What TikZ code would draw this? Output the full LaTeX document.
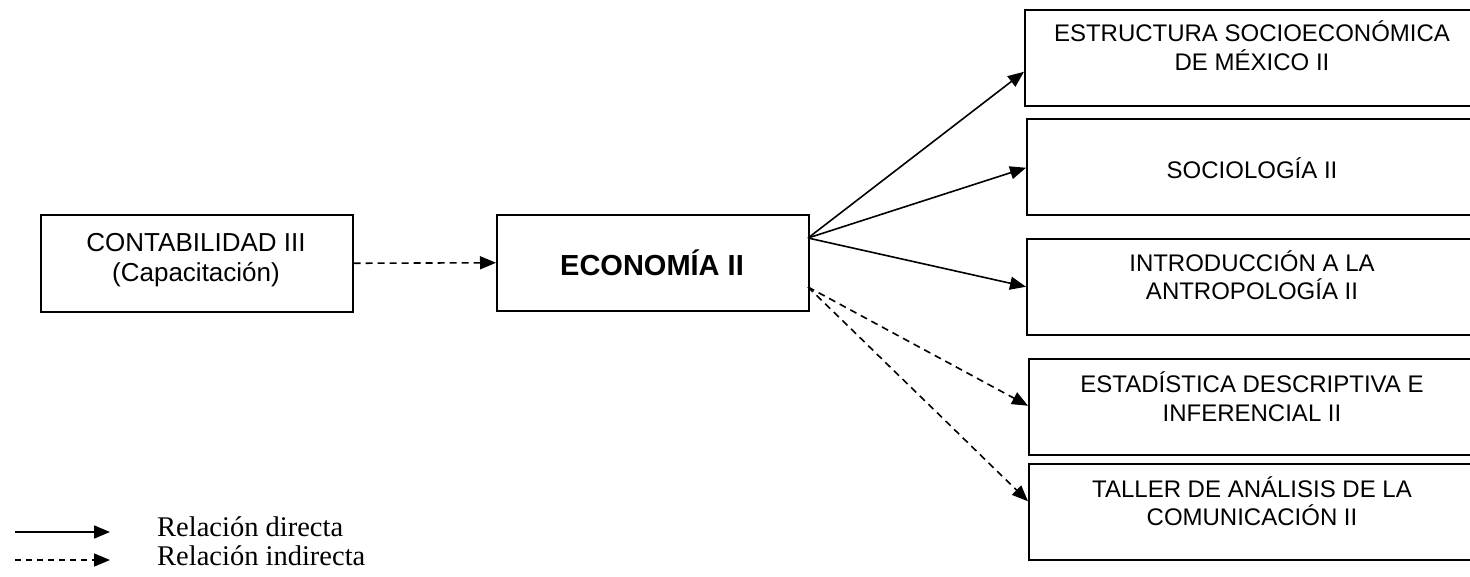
\documentclass[tikz,border=0pt]{standalone}
\usepackage{fontspec}
\setmainfont{Liberation Sans}
\newfontfamily\timesfont{Liberation Serif}
\usetikzlibrary{arrows.meta}
\tikzset{
  box/.style={draw, line width=1.5pt, rectangle, inner sep=0pt, anchor=north west},
  rbox/.style={box, minimum width=456pt, minimum height=96pt},
  lbl/.style={inner sep=0pt, anchor=base, font=\fontsize{24}{28}\selectfont},
  arr/.style={line width=1.6pt, -{Triangle[length=16pt,width=13pt]}},
  darr/.style={arr, dash pattern=on 7pt off 5pt},
  leg/.style={inner sep=0pt, anchor=base west, font=\timesfont\fontsize{28.5}{30}\selectfont}
}
\begin{document}
\begin{tikzpicture}[x=1pt,y=-1pt]
\useasboundingbox (0,0) rectangle (1470,576);
% left box
\node[box, minimum width=312pt, minimum height=97pt] (cont) at (40,214) {};
\node[lbl, font=\fontsize{26}{30}\selectfont] (cont1) at (196,251.5) {CONTABILIDAD III};
\node[lbl, font=\fontsize{26}{30}\selectfont] (cont2) at (196,281.5) {(Capacitación)};
% center box
\node[box, minimum width=312pt, minimum height=96pt] (eco) at (496,214) {};
\node[lbl, font=\bfseries\fontsize{29}{32}\selectfont] (ecot) at (652,275.5) {ECONOMÍA II};
% right boxes
\node[rbox] (b1) at (1024,9) {};
\node[lbl] (b1a) at (1252,41.5) {ESTRUCTURA SOCIOECONÓMICA};
\node[lbl] (b1b) at (1252,70.5) {DE MÉXICO II};
\node[rbox] (b2) at (1026,118) {};
\node[lbl] (b2a) at (1252,178.5) {SOCIOLOGÍA II};
\node[rbox] (b3) at (1026,238) {};
\node[lbl] (b3a) at (1252,271) {INTRODUCCIÓN A LA};
\node[lbl] (b3b) at (1252,299.5) {ANTROPOLOGÍA II};
\node[rbox] (b4) at (1028,358) {};
\node[lbl] (b4a) at (1252,392.5) {ESTADÍSTICA DESCRIPTIVA E};
\node[lbl] (b4b) at (1252,421) {INFERENCIAL II};
\node[rbox] (b5) at (1028,463) {};
\node[lbl] (b5a) at (1252,497) {TALLER DE ANÁLISIS DE LA};
\node[lbl] (b5b) at (1252,525.5) {COMUNICACIÓN II};
% connectors
\coordinate (s1) at (808,238);
\coordinate (s2) at (808,287);
\draw[darr] (cont.east) -- (eco.west);
\draw[arr] (s1) -- ([yshift=-14pt]b1.west);
\draw[arr] (s1) -- ([yshift=-1pt]b2.west);
\draw[arr] (s1) -- (b3.west);
\draw[darr] (s2) -- ([yshift=1pt]b4.west);
\draw[darr] (s2) -- ([yshift=10.5pt]b5.west);
% legend
\coordinate (l1a) at (15,532);
\coordinate (l1b) at (110,532);
\coordinate (l2a) at (15,560);
\coordinate (l2b) at (110,560);
\draw[arr] (l1a) -- (l1b);
\draw[darr, dash pattern=on 6pt off 5pt] (l2a) -- (l2b);
\node[leg] (leg1) at (157,536) {Relación directa};
\node[leg] (leg2) at (157,565) {Relación indirecta};
\end{tikzpicture}
\end{document}
